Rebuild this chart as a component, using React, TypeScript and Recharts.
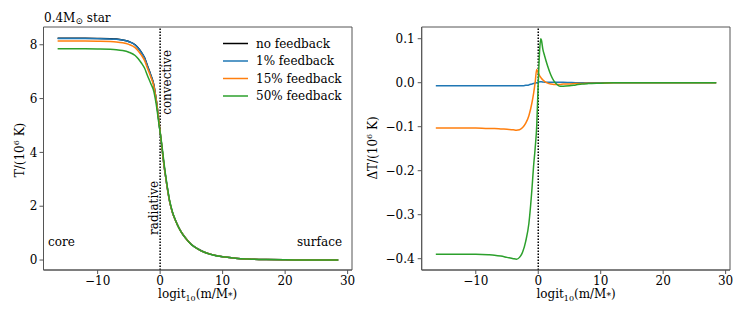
import { LineChart, Line, XAxis, YAxis, ReferenceLine, ReferenceArea } from 'recharts';

// logit10(m/M*) sample points, shared by both panels
const xs = [-16.4, -14, -12, -10, -8, -7, -6, -5, -4, -3.5, -3, -2.5, -2, -1.5, -1, -0.75, -0.5, -0.25, 0, 0.25, 0.4, 0.5, 0.75, 1, 1.5, 2, 2.5, 3, 3.5, 4, 5, 6, 7, 8, 10, 12, 14, 17, 20, 24, 28.5];

// T / 10^6 K
const tNone = [8.24, 8.24, 8.24, 8.235, 8.225, 8.21, 8.18, 8.12, 8.0, 7.88, 7.72, 7.52, 7.2, 6.88, 6.5, 6.15, 5.75, 5.25, 4.75, 4.25, 3.95, 3.75, 3.3, 2.9, 2.2, 1.75, 1.45, 1.2, 1.0, 0.84, 0.58, 0.42, 0.3, 0.22, 0.12, 0.07, 0.04, 0.018, 0.008, 0.003, 0.001];
const t1 = [8.233, 8.233, 8.233, 8.228, 8.218, 8.203, 8.173, 8.113, 7.993, 7.873, 7.713, 7.513, 7.194, 6.875, 6.497, 6.148, 5.749, 5.25, 4.751, 4.252, 3.952, 3.752, 3.302, 2.901, 2.201, 1.751, 1.451, 1.201, 1.001, 0.841, 0.581, 0.42, 0.3, 0.22, 0.12, 0.07, 0.04, 0.018, 0.008, 0.003, 0.001];
const t15 = [8.137, 8.137, 8.137, 8.132, 8.121, 8.106, 8.075, 8.014, 7.893, 7.772, 7.613, 7.418, 7.108, 6.805, 6.455, 6.125, 5.75, 5.28, 4.772, 4.265, 3.962, 3.76, 3.306, 2.903, 2.199, 1.747, 1.446, 1.196, 0.996, 0.837, 0.577, 0.418, 0.298, 0.219, 0.119, 0.07, 0.04, 0.018, 0.008, 0.003, 0.001];
const t50 = [7.85, 7.85, 7.85, 7.845, 7.834, 7.818, 7.786, 7.723, 7.6, 7.479, 7.323, 7.135, 6.84, 6.56, 6.26, 5.96, 5.6, 5.15, 4.75, 4.33, 4.05, 3.847, 3.375, 2.962, 2.238, 1.768, 1.454, 1.196, 0.992, 0.832, 0.573, 0.415, 0.297, 0.218, 0.119, 0.07, 0.04, 0.018, 0.008, 0.003, 0.001];

// ΔT / 10^6 K relative to no feedback
const d1 = [-0.007, -0.007, -0.007, -0.007, -0.007, -0.007, -0.007, -0.007, -0.007, -0.007, -0.007, -0.007, -0.006, -0.005, -0.003, -0.002, -0.001, 0, 0.001, 0.002, 0.002, 0.002, 0.0015, 0.001, 0.001, 0.001, 0.001, 0.001, 0.001, 0.001, 0.0005, 0, 0, 0, 0, 0, 0, 0, 0, 0, 0];
const d15 = [-0.103, -0.103, -0.103, -0.103, -0.104, -0.104, -0.105, -0.106, -0.107, -0.108, -0.107, -0.102, -0.092, -0.075, -0.045, -0.025, 0.0, 0.03, 0.022, 0.015, 0.012, 0.01, 0.006, 0.003, -0.001, -0.003, -0.004, -0.004, -0.004, -0.003, -0.003, -0.002, -0.002, -0.001, -0.001, 0, 0, 0, 0, 0, 0];
const d50 = [-0.39, -0.39, -0.39, -0.39, -0.391, -0.392, -0.394, -0.397, -0.4, -0.401, -0.397, -0.385, -0.36, -0.32, -0.24, -0.19, -0.15, -0.1, 0.0, 0.08, 0.1, 0.097, 0.075, 0.062, 0.038, 0.018, 0.004, -0.004, -0.008, -0.008, -0.007, -0.005, -0.003, -0.002, -0.001, 0, 0, 0, 0, 0, 0];

const xTicks = [-10, 0, 10, 20, 30];
const tTicks = [0, 2, 4, 6, 8];
const dTicks = [-0.4, -0.3, -0.2, -0.1, 0, 0.1];

const series = [
  { name: 'no feedback', color: '#000000' },
  { name: '1% feedback', color: '#1f77b4' },
  { name: '15% feedback', color: '#ff7f0e' },
  { name: '50% feedback', color: '#2ca02c' },
];

const data = xs.map((x, i) => ({
  x,
  t0: tNone[i],
  t1: t1[i],
  t15: t15[i],
  t50: t50[i],
  d1: d1[i],
  d15: d15[i],
  d50: d50[i],
}));

const FONT = "'DejaVu Serif', 'Liberation Serif', serif";
const XDOM: [number, number] = [-18.66, 30.7];
const TDOM: [number, number] = [-0.37, 8.66];
const DDOM: [number, number] = [-0.4257, 0.1266];

const minus = (s: string) => s.replace('-', '\u2212');
const tickStyle = { fontFamily: FONT, fontSize: 12, fill: '#000' };

export default function App() {
  return (
    <div style={{ position: 'absolute', left: 0, top: 0, width: 747, height: 320, background: '#fff', fontFamily: FONT }}>
      <div style={{ position: 'absolute', left: 0, top: 0 }}>
        <LineChart width={370} height={320} data={data} margin={{ top: 27, right: 18, bottom: 20, left: 0 }}>
          <XAxis dataKey="x" type="number" domain={XDOM} ticks={xTicks} allowDataOverflow
            tick={tickStyle} tickFormatter={(v) => minus(String(v))} tickSize={4} tickMargin={2}
            stroke="#555" height={30} />
          <YAxis type="number" domain={TDOM} ticks={tTicks} allowDataOverflow width={43.5}
            tick={tickStyle} tickSize={4} tickMargin={2} stroke="#555" />
          <ReferenceArea x1={XDOM[0]} x2={XDOM[1]} y1={TDOM[0]} y2={TDOM[1]} fill="none" stroke="#555" strokeWidth={1} />
          <ReferenceLine x={0} stroke="#000" strokeDasharray="1.5 1.5" strokeWidth={1.5} />
          <Line dataKey="t0" type="monotone" stroke={series[0].color} strokeWidth={1.5} dot={false} isAnimationActive={false} />
          <Line dataKey="t1" type="monotone" stroke={series[1].color} strokeWidth={1.5} dot={false} isAnimationActive={false} />
          <Line dataKey="t15" type="monotone" stroke={series[2].color} strokeWidth={1.5} dot={false} isAnimationActive={false} />
          <Line dataKey="t50" type="monotone" stroke={series[3].color} strokeWidth={1.5} dot={false} isAnimationActive={false} />
        </LineChart>
      </div>
      <div style={{ position: 'absolute', left: 370, top: 0 }}>
        <LineChart width={377} height={320} data={data} margin={{ top: 27, right: 17, bottom: 20, left: 0 }}>
          <XAxis dataKey="x" type="number" domain={XDOM} ticks={xTicks} allowDataOverflow
            tick={tickStyle} tickFormatter={(v) => minus(String(v))} tickSize={4} tickMargin={2}
            stroke="#555" height={30} />
          <YAxis type="number" domain={DDOM} ticks={dTicks} allowDataOverflow width={51.7}
            tick={tickStyle} tickFormatter={(v) => minus(Number(v).toFixed(1))} tickSize={4} tickMargin={3} stroke="#555" />
          <ReferenceArea x1={XDOM[0]} x2={XDOM[1]} y1={DDOM[0]} y2={DDOM[1]} fill="none" stroke="#555" strokeWidth={1} />
          <ReferenceLine x={0} stroke="#000" strokeDasharray="1.5 1.5" strokeWidth={1.5} />
          <Line dataKey="d1" type="monotone" stroke={series[1].color} strokeWidth={1.5} dot={false} isAnimationActive={false} />
          <Line dataKey="d15" type="monotone" stroke={series[2].color} strokeWidth={1.5} dot={false} isAnimationActive={false} />
          <Line dataKey="d50" type="monotone" stroke={series[3].color} strokeWidth={1.5} dot={false} isAnimationActive={false} />
        </LineChart>
      </div>
      <svg width={747} height={320} style={{ position: 'absolute', left: 0, top: 0, pointerEvents: 'none' }}
        fontFamily={FONT} fontSize={12} fill="#000">
        {series.map((s, i) => (
          <g key={s.name}>
            <line x1={223} x2={248} y1={43.5 + i * 17.5} y2={43.5 + i * 17.5} stroke={s.color} strokeWidth={1.5} />
            <text x={256} y={47.5 + i * 17.5}>{s.name}</text>
          </g>
        ))}
        <text x={44} y={22}>0.4M<tspan fontSize={9} dy={2}>{'\u2299'}</tspan><tspan dy={-2}> star</tspan></text>
        <text transform="translate(24,150) rotate(-90)" textAnchor="middle">
          T/(10<tspan fontSize={8} dy={-5}>6</tspan><tspan dy={5}> K)</tspan>
        </text>
        <text transform="translate(377,148) rotate(-90)" textAnchor="middle">
          ΔT/(10<tspan fontSize={8} dy={-5}>6</tspan><tspan dy={5}> K)</tspan>
        </text>
        <text x={197.7} y={298} textAnchor="middle">
          logit<tspan fontSize={8} dy={3}>10</tspan><tspan dy={-3}>(m/M</tspan><tspan fontSize={9} dy={1}>*</tspan><tspan dy={-1}>)</tspan>
        </text>
        <text x={576} y={298} textAnchor="middle">
          logit<tspan fontSize={8} dy={3}>10</tspan><tspan dy={-3}>(m/M</tspan><tspan fontSize={9} dy={1}>*</tspan><tspan dy={-1}>)</tspan>
        </text>
        <text transform="translate(170.5,50) rotate(-90)" textAnchor="end">convective</text>
        <text transform="translate(157.5,235) rotate(-90)" textAnchor="start">radiative</text>
        <text x={48} y={246}>core</text>
        <text x={342} y={246} textAnchor="end">surface</text>
      </svg>
    </div>
  );
}
